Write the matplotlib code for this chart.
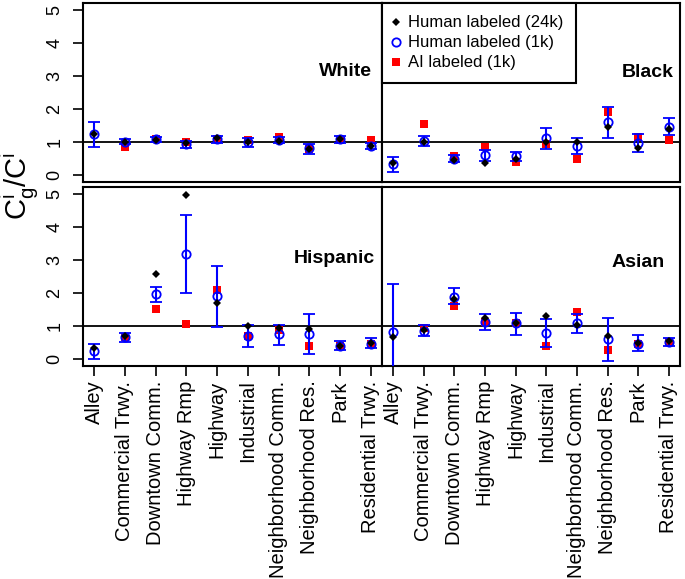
import matplotlib
matplotlib.use("Agg")
import matplotlib.pyplot as plt
from matplotlib.lines import Line2D
import numpy as np

plt.rcParams['font.family'] = ['Liberation Sans', 'DejaVu Sans']
plt.rcParams['mathtext.fontset'] = 'custom'
plt.rcParams['mathtext.rm'] = 'Liberation Sans'

categories = ["Alley", "Commercial Trwy.", "Downtown Comm.", "Highway Rmp",
              "Highway", "Industrial", "Neighborhood Comm.", "Neighborhood Res.",
              "Park", "Residential Trwy."]

# Human labeled (24k)
white_24k = [1.25, 1.00, 1.08, 0.97, 1.12, 1.00, 1.03, 0.80, 1.10, 0.90]
black_24k = [0.38, 1.00, 0.47, 0.37, 0.50, 1.00, 1.02, 1.47, 0.82, 1.40]
hisp_24k = [0.33, 0.70, 2.57, 4.97, 1.69, 1.01, 0.96, 0.91, 0.40, 0.48]
asian_24k = [0.66, 0.90, 1.81, 1.26, 1.10, 1.31, 1.05, 0.71, 0.50, 0.55]

# Human labeled (1k), with error bar ends
white_1k = [1.24, 1.02, 1.09, 0.95, 1.09, 1.01, 1.07, 0.82, 1.09, 0.89]
white_lo = [0.85, 0.94, 1.02, 0.84, 0.99, 0.87, 0.97, 0.65, 0.97, 0.79]
white_hi = [1.60, 1.10, 1.17, 1.05, 1.20, 1.12, 1.17, 0.95, 1.20, 0.99]

black_1k = [0.34, 1.05, 0.49, 0.61, 0.57, 1.13, 0.90, 1.60, 0.97, 1.47]
black_lo = [0.09, 0.90, 0.39, 0.42, 0.42, 0.80, 0.65, 1.12, 0.70, 1.22]
black_hi = [0.55, 1.19, 0.60, 0.76, 0.70, 1.44, 1.12, 2.07, 1.24, 1.72]

hisp_1k = [0.24, 0.68, 1.96, 3.19, 1.91, 0.71, 0.76, 0.76, 0.41, 0.47]
hisp_lo = [0.00, 0.52, 1.74, 2.01, 0.98, 0.37, 0.44, 0.16, 0.27, 0.34]
hisp_hi = [0.45, 0.79, 2.19, 4.37, 2.83, 1.03, 1.05, 1.36, 0.54, 0.64]

asian_1k = [0.84, 0.86, 1.89, 1.14, 1.09, 0.79, 1.09, 0.61, 0.47, 0.53]
asian_lo = [-0.60, 0.69, 1.66, 0.88, 0.73, 0.36, 0.80, -0.04, 0.26, 0.39]
asian_hi = [2.28, 1.04, 2.14, 1.36, 1.39, 1.21, 1.36, 1.24, 0.73, 0.65]

# AI labeled (1k); no alley value
white_ai = [np.nan, 0.87, 1.09, 1.02, 1.09, 1.07, 1.17, 0.80, 1.07, 1.07]
black_ai = [np.nan, 1.55, 0.59, 0.87, 0.39, 0.94, 0.50, 1.92, 1.15, 1.07]
hisp_ai = [np.nan, 0.68, 1.51, 1.07, 2.09, 0.71, 0.89, 0.39, 0.41, 0.47]
asian_ai = [np.nan, 0.94, 1.61, 1.13, 1.11, 0.39, 1.44, 0.28, 0.47, 0.53]

panels = [
    ("White", white_24k, white_1k, white_lo, white_hi, white_ai),
    ("Black", black_24k, black_1k, black_lo, black_hi, black_ai),
    ("Hispanic", hisp_24k, hisp_1k, hisp_lo, hisp_hi, hisp_ai),
    ("Asian", asian_24k, asian_1k, asian_lo, asian_hi, asian_ai),
]

W, H = 685, 579
fig = plt.figure(figsize=(W / 100, H / 100), dpi=100)

# panel boxes in pixels: left, top, right, bottom
boxes = [(83, 3, 382, 182), (382, 3, 680, 182),
         (83, 187, 382, 366), (382, 187, 680, 366)]
title_pos = [(0.967, 0.615), (0.98, 0.61), (0.977, 0.603), (0.95, 0.58)]

x = np.arange(1, 11)
axes = []
for i, (name, h24, h1, lo, hi, ai) in enumerate(panels):
    l, t, r, b = boxes[i]
    ax = fig.add_axes([l / W, 1 - b / H, (r - l) / W, (b - t) / H])
    axes.append(ax)
    h1 = np.array(h1)
    ax.axhline(1, color='black', lw=1.3, zorder=1)
    ax.plot(x, ai, 's', color='#ff0000', ms=5.5, mew=0, zorder=2)
    ax.errorbar(x, h1, yerr=[h1 - np.array(lo), np.array(hi) - h1], fmt='o',
                mfc='none', mec='#0000ff', ecolor='#0000ff', ms=6, mew=1.3,
                capsize=4.5, elinewidth=1.5, capthick=1.5, zorder=3)
    ax.plot(x, h24, 'D', color='black', ms=4, mew=0, zorder=4)
    ax.set_xlim(0.64, 10.36)
    ax.set_ylim(-0.2, 5.2)
    for s in ax.spines.values():
        s.set_linewidth(1.5)
    tx, ty = title_pos[i]
    ax.text(tx, ty, name, transform=ax.transAxes, ha='right', va='center',
            fontsize=14, fontweight='bold')
    ax.tick_params(length=7, width=1.2, labelsize=13)
    if i % 2 == 0:
        ax.set_yticks(range(6))
        ax.tick_params(axis='y', labelrotation=90, pad=7)
        for lab in ax.get_yticklabels():
            lab.set_va('center')
    else:
        ax.set_yticks([])
    if i >= 2:
        ax.set_xticks(x)
        ax.set_xticklabels(categories, rotation=90, fontsize=14.5)
    else:
        ax.set_xticks([])

handles = [
    Line2D([], [], marker='D', color='black', ls='none', ms=4, mew=0),
    Line2D([], [], marker='o', mfc='none', mec='#0000ff', ls='none', ms=6, mew=1.3),
    Line2D([], [], marker='s', color='#ff0000', ls='none', ms=5.5, mew=0),
]
leg = axes[1].legend(handles, ["Human labeled (24k)", "Human labeled (1k)", "AI labeled (1k)"],
                     loc='upper left', bbox_to_anchor=(0, 1), borderaxespad=0,
                     fancybox=False, edgecolor='black', framealpha=1, fontsize=12,
                     handlelength=0.2, handletextpad=0.6, labelspacing=0.3,
                     borderpad=0.75)
leg.get_frame().set_linewidth(1.5)

fig.text(20 / W, 1 - 186 / H, r'$\mathregular{C^i_g/C^i}$', rotation=90,
         fontsize=21, ha='center', va='center')

fig.savefig("out.png", dpi=100)
